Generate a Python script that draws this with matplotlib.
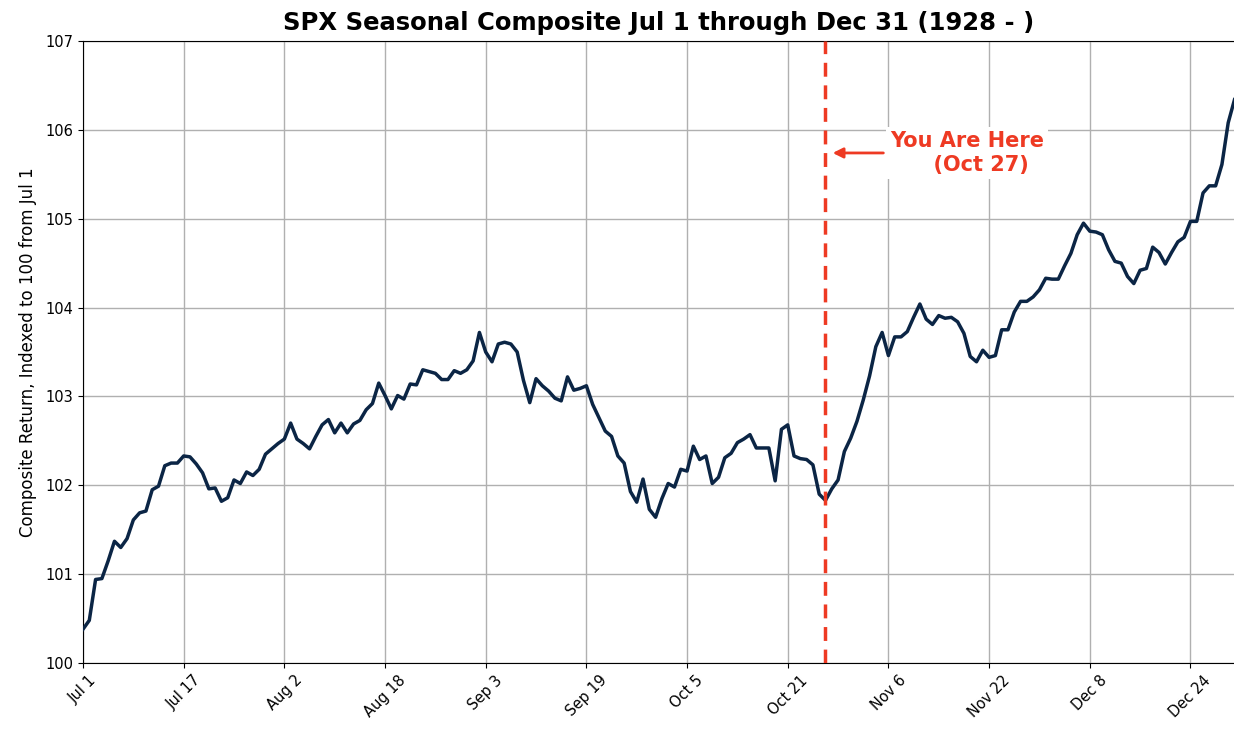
import numpy as np
from matplotlib import pyplot as plt

# composite values, one per calendar day from Jul 1 (day 0) to Dec 31 (day 183)
composite = [
    100.38, 100.48, 100.94, 100.95, 101.15, 101.37, 101.30, 101.40, 101.61, 101.69,
    101.71, 101.95, 101.99, 102.22, 102.25, 102.25, 102.33, 102.32, 102.24, 102.14,
    101.96, 101.97, 101.82, 101.86, 102.06, 102.02, 102.15, 102.11, 102.18, 102.35,
    102.41, 102.47, 102.52, 102.70, 102.52, 102.47, 102.41, 102.55, 102.68, 102.74,
    102.59, 102.70, 102.59, 102.69, 102.73, 102.85, 102.92, 103.15, 103.01, 102.86,
    103.01, 102.97, 103.14, 103.13, 103.30, 103.28, 103.26, 103.19, 103.19, 103.29,
    103.26, 103.30, 103.40, 103.72, 103.50, 103.39, 103.59, 103.61, 103.59, 103.50,
    103.18, 102.93, 103.20, 103.12, 103.06, 102.98, 102.95, 103.22, 103.07, 103.09,
    103.12, 102.91, 102.76, 102.61, 102.55, 102.33, 102.25, 101.93, 101.81, 102.07,
    101.73, 101.64, 101.85, 102.02, 101.98, 102.18, 102.16, 102.44, 102.29, 102.33,
    102.02, 102.09, 102.31, 102.36, 102.48, 102.52, 102.57, 102.42, 102.42, 102.42,
    102.05, 102.63, 102.68, 102.33, 102.30, 102.29, 102.23, 101.90, 101.83, 101.96,
    102.06, 102.38, 102.53, 102.72, 102.96, 103.23, 103.56, 103.72, 103.46, 103.67,
    103.67, 103.73, 103.89, 104.04, 103.87, 103.81, 103.91, 103.88, 103.89, 103.84,
    103.71, 103.45, 103.39, 103.52, 103.44, 103.46, 103.75, 103.75, 103.95, 104.07,
    104.07, 104.12, 104.20, 104.33, 104.32, 104.32, 104.47, 104.61, 104.82, 104.95,
    104.86, 104.85, 104.82, 104.65, 104.52, 104.50, 104.35, 104.27, 104.42, 104.44,
    104.68, 104.62, 104.49, 104.62, 104.74, 104.79, 104.97, 104.97, 105.29, 105.37,
    105.37, 105.61, 106.08, 106.34,
]
days = np.arange(len(composite))

tick_days = [0, 16, 32, 48, 64, 80, 96, 112, 128, 144, 160, 176]
tick_labels = ["Jul 1", "Jul 17", "Aug 2", "Aug 18", "Sep 3", "Sep 19",
               "Oct 5", "Oct 21", "Nov 6", "Nov 22", "Dec 8", "Dec 24"]

today = 118  # Oct 27
today_label = "You Are Here\n      (Oct 27)"

fig = plt.figure(figsize=(12.34, 7.29), dpi=100)
ax = fig.add_axes([83 / 1234, 1 - 663 / 729, 1151.5 / 1234, 622 / 729])

ax.plot(days, composite, color="#0b2545", lw=2.5, zorder=3)
ax.axvline(today, color="#ee3a23", ls="--", lw=2.5, dashes=(4, 2.5), zorder=4)

ax.annotate(today_label, xy=(today + 0.7, 105.74), xytext=(128.3, 105.74),
            color="#ee3a23", fontsize=15, fontweight="bold", va="center", ha="left",
            bbox=dict(boxstyle="square,pad=0.2", fc="white", ec="none"),
            arrowprops=dict(arrowstyle="-|>", color="#ee3a23", lw=2, mutation_scale=15),
            zorder=5)

ax.set_xlim(0, 183)
ax.set_ylim(100, 107)
ax.set_xticks(tick_days)
ax.set_xticklabels(tick_labels, rotation=45)
ax.tick_params(labelsize=10.5)
ax.grid(True, color="#b0b0b0", lw=1)
ax.set_axisbelow(True)
ax.spines["right"].set_visible(False)

ax.set_ylabel("Composite Return, Indexed to 100 from Jul 1", fontsize=12, labelpad=6)
ax.set_title("SPX Seasonal Composite Jul 1 through Dec 31 (1928 - )",
             fontsize=17.5, fontweight="bold", pad=8)

fig.savefig("out.png", dpi=100)
